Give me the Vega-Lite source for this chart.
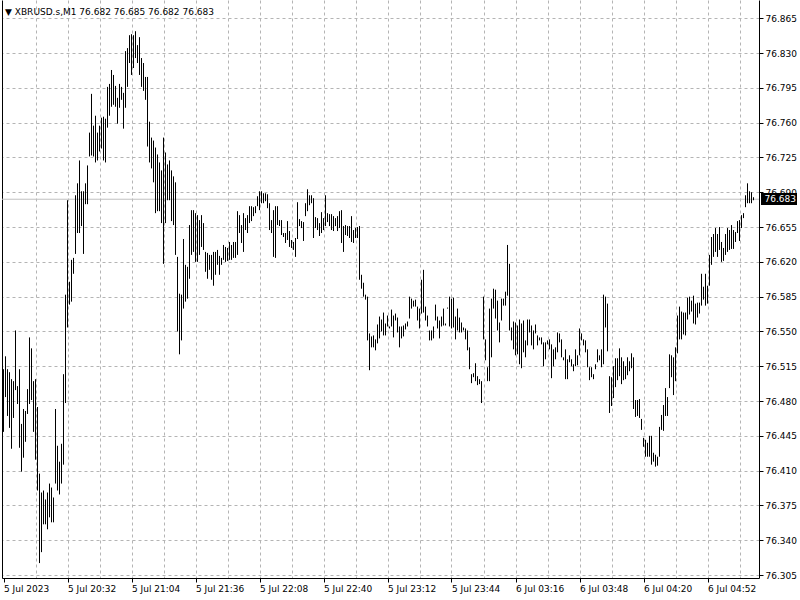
{
"$schema": "https://vega.github.io/schema/vega-lite/v6.json",
"width": 757, "height": 578,
"autosize": {"type": "none"},
"padding": {"left": 2, "top": 0, "right": 41, "bottom": 22},
"background": "white",
"config": {"view": {"stroke": null}},
"title": {"text": "▼ XBRUSD.s,M1  76.682 76.685 76.682 76.683", "anchor": "start", "frame": "group", "orient": "top", "offset": -15, "dx": 3, "dy": 9, "font": "DejaVu Sans", "fontSize": 9, "fontWeight": "normal", "color": "black", "baseline": "alphabetic"},
"resolve": {"axis": {"x": "independent", "y": "independent"}},
"layer": [
{"data": {"values": [{"price": 76.683}]},
 "mark": {"type": "rule", "color": "#c0c0c0", "strokeWidth": 1},
 "encoding": {"y": {"field": "price", "type": "quantitative", "scale": {"domain": [76.302, 76.8834], "zero": false, "nice": false}, "axis": {"orient": "left", "labels": false, "ticks": false, "grid": false, "domain": true, "domainColor": "black", "title": null}}}},
{"data": {"values": [
{"i":0,"h":76.512,"l":76.449},{"i":1,"h":76.525,"l":76.484},{"i":2,"h":76.512,"l":76.465},{"i":3,"h":76.509,"l":76.453},{"i":4,"h":76.502,"l":76.432},{"i":5,"h":76.500,"l":76.463},{"i":6,"h":76.551,"l":76.491},{"i":7,"h":76.495,"l":76.477},{"i":8,"h":76.512,"l":76.433},{"i":9,"h":76.457,"l":76.409},
{"i":10,"h":76.472,"l":76.423},{"i":11,"h":76.470,"l":76.439},{"i":12,"h":76.492,"l":76.467},{"i":13,"h":76.544,"l":76.477},{"i":14,"h":76.533,"l":76.481},{"i":15,"h":76.500,"l":76.449},{"i":16,"h":76.502,"l":76.421},{"i":17,"h":76.474,"l":76.390},{"i":18,"h":76.407,"l":76.317},{"i":19,"h":76.388,"l":76.328},
{"i":20,"h":76.390,"l":76.356},{"i":21,"h":76.381,"l":76.356},{"i":22,"h":76.388,"l":76.351},{"i":23,"h":76.397,"l":76.363},{"i":24,"h":76.393,"l":76.358},{"i":25,"h":76.383,"l":76.358},{"i":26,"h":76.472,"l":76.397},{"i":27,"h":76.435,"l":76.390},{"i":28,"h":76.419,"l":76.386},{"i":29,"h":76.437,"l":76.397},
{"i":30,"h":76.507,"l":76.416},{"i":31,"h":76.587,"l":76.478},{"i":32,"h":76.682,"l":76.554},{"i":33,"h":76.600,"l":76.577},{"i":34,"h":76.622,"l":76.580},{"i":35,"h":76.624,"l":76.608},{"i":36,"h":76.687,"l":76.628},{"i":37,"h":76.699,"l":76.649},{"i":38,"h":76.722,"l":76.649},{"i":39,"h":76.691,"l":76.656},
{"i":40,"h":76.691,"l":76.628},{"i":41,"h":76.699,"l":76.678},{"i":42,"h":76.717,"l":76.678},{"i":43,"h":76.750,"l":76.726},{"i":44,"h":76.789,"l":76.727},{"i":45,"h":76.757,"l":76.726},{"i":46,"h":76.767,"l":76.720},{"i":47,"h":76.750,"l":76.722},{"i":48,"h":76.757,"l":76.731},{"i":49,"h":76.765,"l":76.734},
{"i":50,"h":76.766,"l":76.722},{"i":51,"h":76.764,"l":76.720},{"i":52,"h":76.796,"l":76.755},{"i":53,"h":76.799,"l":76.767},{"i":54,"h":76.813,"l":76.776},{"i":55,"h":76.808,"l":76.778},{"i":56,"h":76.797,"l":76.776},{"i":57,"h":76.785,"l":76.759},{"i":58,"h":76.799,"l":76.775},{"i":59,"h":76.796,"l":76.783},
{"i":60,"h":76.790,"l":76.754},{"i":61,"h":76.832,"l":76.775},{"i":62,"h":76.835,"l":76.796},{"i":63,"h":76.848,"l":76.820},{"i":64,"h":76.849,"l":76.808},{"i":65,"h":76.848,"l":76.815},{"i":66,"h":76.852,"l":76.825},{"i":67,"h":76.838,"l":76.820},{"i":68,"h":76.846,"l":76.808},{"i":69,"h":76.825,"l":76.796},
{"i":70,"h":76.820,"l":76.792},{"i":71,"h":76.806,"l":76.783},{"i":72,"h":76.806,"l":76.736},{"i":73,"h":76.761,"l":76.720},{"i":74,"h":76.745,"l":76.714},{"i":75,"h":76.742,"l":76.700},{"i":76,"h":76.735,"l":76.669},{"i":77,"h":76.728,"l":76.671},{"i":78,"h":76.720,"l":76.671},{"i":79,"h":76.712,"l":76.659},
{"i":80,"h":76.745,"l":76.618},{"i":81,"h":76.730,"l":76.659},{"i":82,"h":76.718,"l":76.682},{"i":83,"h":76.722,"l":76.682},{"i":84,"h":76.712,"l":76.661},{"i":85,"h":76.706,"l":76.657},{"i":86,"h":76.700,"l":76.627},{"i":87,"h":76.625,"l":76.550},{"i":88,"h":76.588,"l":76.527},{"i":89,"h":76.587,"l":76.541},
{"i":90,"h":76.643,"l":76.573},{"i":91,"h":76.617,"l":76.580},{"i":92,"h":76.615,"l":76.583},{"i":93,"h":76.657,"l":76.603},{"i":94,"h":76.672,"l":76.627},{"i":95,"h":76.672,"l":76.630},{"i":96,"h":76.669,"l":76.620},{"i":97,"h":76.667,"l":76.620},{"i":98,"h":76.662,"l":76.627},{"i":99,"h":76.667,"l":76.635},
{"i":100,"h":76.659,"l":76.632},{"i":101,"h":76.630,"l":76.610},{"i":102,"h":76.629,"l":76.603},{"i":103,"h":76.627,"l":76.612},{"i":104,"h":76.627,"l":76.602},{"i":105,"h":76.630,"l":76.596},{"i":106,"h":76.630,"l":76.607},{"i":107,"h":76.632,"l":76.617},{"i":108,"h":76.626,"l":76.607},{"i":109,"h":76.624,"l":76.617},
{"i":110,"h":76.637,"l":76.622},{"i":111,"h":76.635,"l":76.620},{"i":112,"h":76.634,"l":76.621},{"i":113,"h":76.640,"l":76.622},{"i":114,"h":76.637,"l":76.622},{"i":115,"h":76.640,"l":76.624},{"i":116,"h":76.640,"l":76.624},{"i":117,"h":76.671,"l":76.627},{"i":118,"h":76.667,"l":76.649},{"i":119,"h":76.657,"l":76.639},
{"i":120,"h":76.669,"l":76.630},{"i":121,"h":76.664,"l":76.652},{"i":122,"h":76.667,"l":76.649},{"i":123,"h":76.676,"l":76.659},{"i":124,"h":76.676,"l":76.661},{"i":125,"h":76.675,"l":76.666},{"i":126,"h":76.676,"l":76.669},{"i":127,"h":76.686,"l":76.676},{"i":128,"h":76.691,"l":76.672},{"i":129,"h":76.691,"l":76.679},
{"i":130,"h":76.689,"l":76.679},{"i":131,"h":76.689,"l":76.681},{"i":132,"h":76.688,"l":76.674},{"i":133,"h":76.679,"l":76.652},{"i":134,"h":76.662,"l":76.649},{"i":135,"h":76.672,"l":76.625},{"i":136,"h":76.676,"l":76.624},{"i":137,"h":76.676,"l":76.657},{"i":138,"h":76.662,"l":76.656},{"i":139,"h":76.662,"l":76.647},
{"i":140,"h":76.649,"l":76.645},{"i":141,"h":76.649,"l":76.639},{"i":142,"h":76.661,"l":76.642},{"i":143,"h":76.651,"l":76.635},{"i":144,"h":76.642,"l":76.634},{"i":145,"h":76.640,"l":76.632},{"i":146,"h":76.644,"l":76.625},{"i":147,"h":76.680,"l":76.643},{"i":148,"h":76.663,"l":76.656},{"i":149,"h":76.661,"l":76.654},
{"i":150,"h":76.660,"l":76.641},{"i":151,"h":76.679,"l":76.666},{"i":152,"h":76.693,"l":76.671},{"i":153,"h":76.687,"l":76.677},{"i":154,"h":76.687,"l":76.679},{"i":155,"h":76.684,"l":76.644},{"i":156,"h":76.665,"l":76.654},{"i":157,"h":76.664,"l":76.652},{"i":158,"h":76.659,"l":76.646},{"i":159,"h":76.670,"l":76.649},
{"i":160,"h":76.664,"l":76.652},{"i":161,"h":76.687,"l":76.656},{"i":162,"h":76.669,"l":76.660},{"i":163,"h":76.668,"l":76.656},{"i":164,"h":76.668,"l":76.652},{"i":165,"h":76.666,"l":76.651},{"i":166,"h":76.664,"l":76.656},{"i":167,"h":76.666,"l":76.651},{"i":168,"h":76.671,"l":76.654},{"i":169,"h":76.672,"l":76.639},
{"i":170,"h":76.656,"l":76.630},{"i":171,"h":76.657,"l":76.647},{"i":172,"h":76.656,"l":76.646},{"i":173,"h":76.656,"l":76.644},{"i":174,"h":76.666,"l":76.640},{"i":175,"h":76.652,"l":76.639},{"i":176,"h":76.654,"l":76.644},{"i":177,"h":76.655,"l":76.644},{"i":178,"h":76.656,"l":76.602},{"i":179,"h":76.607,"l":76.593},
{"i":180,"h":76.599,"l":76.585},{"i":181,"h":76.587,"l":76.582},{"i":182,"h":76.585,"l":76.541},{"i":183,"h":76.548,"l":76.511},{"i":184,"h":76.545,"l":76.534},{"i":185,"h":76.546,"l":76.534},{"i":186,"h":76.542,"l":76.531},{"i":187,"h":76.557,"l":76.538},{"i":188,"h":76.565,"l":76.543},{"i":189,"h":76.562,"l":76.550},
{"i":190,"h":76.569,"l":76.546},{"i":191,"h":76.558,"l":76.546},{"i":192,"h":76.566,"l":76.555},{"i":193,"h":76.555,"l":76.553},{"i":194,"h":76.572,"l":76.555},{"i":195,"h":76.566,"l":76.544},{"i":196,"h":76.568,"l":76.561},{"i":197,"h":76.564,"l":76.549},{"i":198,"h":76.555,"l":76.534},{"i":199,"h":76.555,"l":76.543},
{"i":200,"h":76.556,"l":76.545},{"i":201,"h":76.558,"l":76.552},{"i":202,"h":76.560,"l":76.555},{"i":203,"h":76.585,"l":76.563},{"i":204,"h":76.583,"l":76.573},{"i":205,"h":76.581,"l":76.575},{"i":206,"h":76.582,"l":76.575},{"i":207,"h":76.575,"l":76.561},{"i":208,"h":76.573,"l":76.553},{"i":209,"h":76.602,"l":76.568},
{"i":210,"h":76.612,"l":76.569},{"i":211,"h":76.575,"l":76.561},{"i":212,"h":76.566,"l":76.555},{"i":213,"h":76.551,"l":76.541},{"i":214,"h":76.551,"l":76.541},{"i":215,"h":76.555,"l":76.543},{"i":216,"h":76.577,"l":76.561},{"i":217,"h":76.565,"l":76.553},{"i":218,"h":76.561,"l":76.543},{"i":219,"h":76.565,"l":76.555},
{"i":220,"h":76.573,"l":76.556},{"i":221,"h":76.558,"l":76.556},{"i":222,"h":76.574,"l":76.573},{"i":223,"h":76.585,"l":76.555},{"i":224,"h":76.583,"l":76.553},{"i":225,"h":76.584,"l":76.554},{"i":226,"h":76.565,"l":76.542},{"i":227,"h":76.573,"l":76.551},{"i":228,"h":76.564,"l":76.549},{"i":229,"h":76.559,"l":76.549},
{"i":230,"h":76.554,"l":76.551},{"i":231,"h":76.553,"l":76.542},{"i":232,"h":76.551,"l":76.531},{"i":233,"h":76.534,"l":76.512},{"i":234,"h":76.507,"l":76.498},{"i":235,"h":76.508,"l":76.504},{"i":236,"h":76.518,"l":76.500},{"i":237,"h":76.505,"l":76.496},{"i":238,"h":76.502,"l":76.497},{"i":239,"h":76.500,"l":76.478},
{"i":240,"h":76.585,"l":76.542},{"i":241,"h":76.542,"l":76.521},{"i":242,"h":76.514,"l":76.500},{"i":243,"h":76.573,"l":76.500},{"i":244,"h":76.583,"l":76.524},{"i":245,"h":76.593,"l":76.573},{"i":246,"h":76.592,"l":76.563},{"i":247,"h":76.581,"l":76.551},{"i":248,"h":76.559,"l":76.539},{"i":249,"h":76.583,"l":76.561},
{"i":250,"h":76.583,"l":76.576},{"i":251,"h":76.590,"l":76.576},{"i":252,"h":76.637,"l":76.586},{"i":253,"h":76.618,"l":76.551},{"i":254,"h":76.554,"l":76.541},{"i":255,"h":76.560,"l":76.532},{"i":256,"h":76.559,"l":76.526},{"i":257,"h":76.556,"l":76.527},{"i":258,"h":76.562,"l":76.517},{"i":259,"h":76.558,"l":76.513},
{"i":260,"h":76.561,"l":76.529},{"i":261,"h":76.541,"l":76.524},{"i":262,"h":76.562,"l":76.536},{"i":263,"h":76.562,"l":76.549},{"i":264,"h":76.556,"l":76.536},{"i":265,"h":76.551,"l":76.532},{"i":266,"h":76.557,"l":76.548},{"i":267,"h":76.546,"l":76.536},{"i":268,"h":76.544,"l":76.541},{"i":269,"h":76.544,"l":76.537},
{"i":270,"h":76.539,"l":76.515},{"i":271,"h":76.539,"l":76.522},{"i":272,"h":76.541,"l":76.537},{"i":273,"h":76.542,"l":76.532},{"i":274,"h":76.537,"l":76.503},{"i":275,"h":76.532,"l":76.515},{"i":276,"h":76.534,"l":76.522},{"i":277,"h":76.549,"l":76.529},{"i":278,"h":76.548,"l":76.539},{"i":279,"h":76.542,"l":76.524},
{"i":280,"h":76.524,"l":76.521},{"i":281,"h":76.532,"l":76.502},{"i":282,"h":76.522,"l":76.502},{"i":283,"h":76.526,"l":76.519},{"i":284,"h":76.522,"l":76.515},{"i":285,"h":76.517,"l":76.510},{"i":286,"h":76.532,"l":76.515},{"i":287,"h":76.526,"l":76.516},{"i":288,"h":76.553,"l":76.526},{"i":289,"h":76.548,"l":76.541},
{"i":290,"h":76.542,"l":76.536},{"i":291,"h":76.541,"l":76.529},{"i":292,"h":76.532,"l":76.514},{"i":293,"h":76.514,"l":76.501},{"i":294,"h":76.514,"l":76.504},{"i":295,"h":76.507,"l":76.502},{"i":296,"h":76.517,"l":76.512},{"i":297,"h":76.532,"l":76.519},{"i":298,"h":76.526,"l":76.521},{"i":299,"h":76.532,"l":76.514},
{"i":300,"h":76.587,"l":76.517},{"i":301,"h":76.585,"l":76.554},{"i":302,"h":76.578,"l":76.530},{"i":303,"h":76.505,"l":76.468},{"i":304,"h":76.504,"l":76.475},{"i":305,"h":76.515,"l":76.483},{"i":306,"h":76.523,"l":76.494},{"i":307,"h":76.523,"l":76.501},{"i":308,"h":76.533,"l":76.505},{"i":309,"h":76.524,"l":76.497},
{"i":310,"h":76.520,"l":76.501},{"i":311,"h":76.515,"l":76.502},{"i":312,"h":76.524,"l":76.506},{"i":313,"h":76.520,"l":76.510},{"i":314,"h":76.528,"l":76.513},{"i":315,"h":76.524,"l":76.472},{"i":316,"h":76.481,"l":76.464},{"i":317,"h":76.481,"l":76.465},{"i":318,"h":76.482,"l":76.463},{"i":319,"h":76.462,"l":76.451},
{"i":320,"h":76.443,"l":76.434},{"i":321,"h":76.441,"l":76.424},{"i":322,"h":76.438,"l":76.424},{"i":323,"h":76.445,"l":76.424},{"i":324,"h":76.445,"l":76.416},{"i":325,"h":76.428,"l":76.419},{"i":326,"h":76.426,"l":76.414},{"i":327,"h":76.424,"l":76.415},{"i":328,"h":76.454,"l":76.424},{"i":329,"h":76.466,"l":76.451},
{"i":330,"h":76.476,"l":76.450},{"i":331,"h":76.493,"l":76.465},{"i":332,"h":76.484,"l":76.465},{"i":333,"h":76.527,"l":76.493},{"i":334,"h":76.526,"l":76.504},{"i":335,"h":76.524,"l":76.486},{"i":336,"h":76.534,"l":76.500},{"i":337,"h":76.566,"l":76.528},{"i":338,"h":76.575,"l":76.542},{"i":339,"h":76.570,"l":76.542},
{"i":340,"h":76.569,"l":76.547},{"i":341,"h":76.569,"l":76.546},{"i":342,"h":76.584,"l":76.562},{"i":343,"h":76.585,"l":76.567},{"i":344,"h":76.581,"l":76.570},{"i":345,"h":76.586,"l":76.558},{"i":346,"h":76.578,"l":76.557},{"i":347,"h":76.579,"l":76.564},{"i":348,"h":76.579,"l":76.568},{"i":349,"h":76.608,"l":76.576},
{"i":350,"h":76.595,"l":76.582},{"i":351,"h":76.608,"l":76.576},{"i":352,"h":76.596,"l":76.578},{"i":353,"h":76.627,"l":76.596},{"i":354,"h":76.645,"l":76.617},{"i":355,"h":76.648,"l":76.625},{"i":356,"h":76.654,"l":76.630},{"i":357,"h":76.648,"l":76.625},{"i":358,"h":76.655,"l":76.632},{"i":359,"h":76.640,"l":76.620},
{"i":360,"h":76.634,"l":76.621},{"i":361,"h":76.648,"l":76.627},{"i":362,"h":76.654,"l":76.630},{"i":363,"h":76.652,"l":76.632},{"i":364,"h":76.657,"l":76.633},{"i":365,"h":76.652,"l":76.633},{"i":366,"h":76.650,"l":76.640},{"i":367,"h":76.661,"l":76.649},{"i":368,"h":76.662,"l":76.641},{"i":369,"h":76.667,"l":76.654},
{"i":370,"h":76.669,"l":76.664},{"i":371,"h":76.687,"l":76.675},{"i":372,"h":76.699,"l":76.679},{"i":373,"h":76.691,"l":76.679},{"i":374,"h":76.690,"l":76.679},{"i":375,"h":76.685,"l":76.682}
]},
 "mark": {"type": "rule", "color": "black", "strokeWidth": 1},
 "encoding": {
  "x": {"field": "i", "type": "quantitative", "scale": {"domain": [-0.75, 377.75], "zero": false, "nice": false},
   "axis": {"values": [0,16,32,48,64,80,96,112,128,144,160,176,192,208,224,240,256,272,288,304,320,336,352,368],
    "labelExpr": "datum.value % 32 === 0 ? ['5 Jul 2023','5 Jul 20:32','5 Jul 21:04','5 Jul 21:36','5 Jul 22:08','5 Jul 22:40','5 Jul 23:12','5 Jul 23:44','6 Jul 03:16','6 Jul 03:48','6 Jul 04:20','6 Jul 04:52'][datum.value/32] : ''",
    "labelAlign": "left", "labelBaseline": "top", "labelFlush": false, "labelOverlap": false, "labelPadding": 2, "labelBound": false,
    "tickSize": 4, "tickColor": "black", "tickOpacity": {"condition": {"test": "datum.value % 32 === 0", "value": 1}, "value": 0},
    "grid": true, "gridColor": "#b4b4b4", "gridDash": [3, 3], "gridOpacity": {"condition": {"test": "datum.value === 0", "value": 0}, "value": 1},
    "domainColor": "black", "labelColor": "black", "labelFont": "DejaVu Sans", "labelFontSize": 9, "title": null}},
  "y": {"field": "h", "type": "quantitative", "scale": {"domain": [76.302, 76.8834], "zero": false, "nice": false},
   "axis": {"orient": "right", "values": [76.305,76.34,76.375,76.41,76.445,76.48,76.515,76.55,76.585,76.62,76.655,76.69,76.725,76.76,76.795,76.83,76.865],
    "format": ".3f", "tickSize": 4, "tickColor": "black", "labelPadding": 2, "labelFlush": false, "labelOverlap": false, "labelBound": false,
    "grid": true, "gridColor": "#b4b4b4", "gridDash": [3, 3], "domainColor": "black", "labelColor": "black", "labelFont": "DejaVu Sans", "labelFontSize": 9, "title": null}},
  "y2": {"field": "l"}
 }},
{"data": {"values": [{"price": 76.683, "label": "76.683", "x0": 378.75, "x1": 396.75, "xt": 380.5, "ytop": 76.6893, "ybot": 76.6772}]},
 "layer": [
  {"mark": {"type": "rect", "color": "black"},
   "encoding": {"x": {"field": "x0", "type": "quantitative", "axis": null}, "x2": {"field": "x1"},
    "y": {"field": "ytop", "type": "quantitative", "axis": null}, "y2": {"field": "ybot"}}},
  {"mark": {"type": "text", "color": "white", "align": "left", "baseline": "middle", "font": "DejaVu Sans", "fontSize": 9},
   "encoding": {"x": {"field": "xt", "type": "quantitative", "axis": null}, "y": {"field": "price", "type": "quantitative", "axis": null}, "text": {"field": "label"}}}
 ]}
]
}
